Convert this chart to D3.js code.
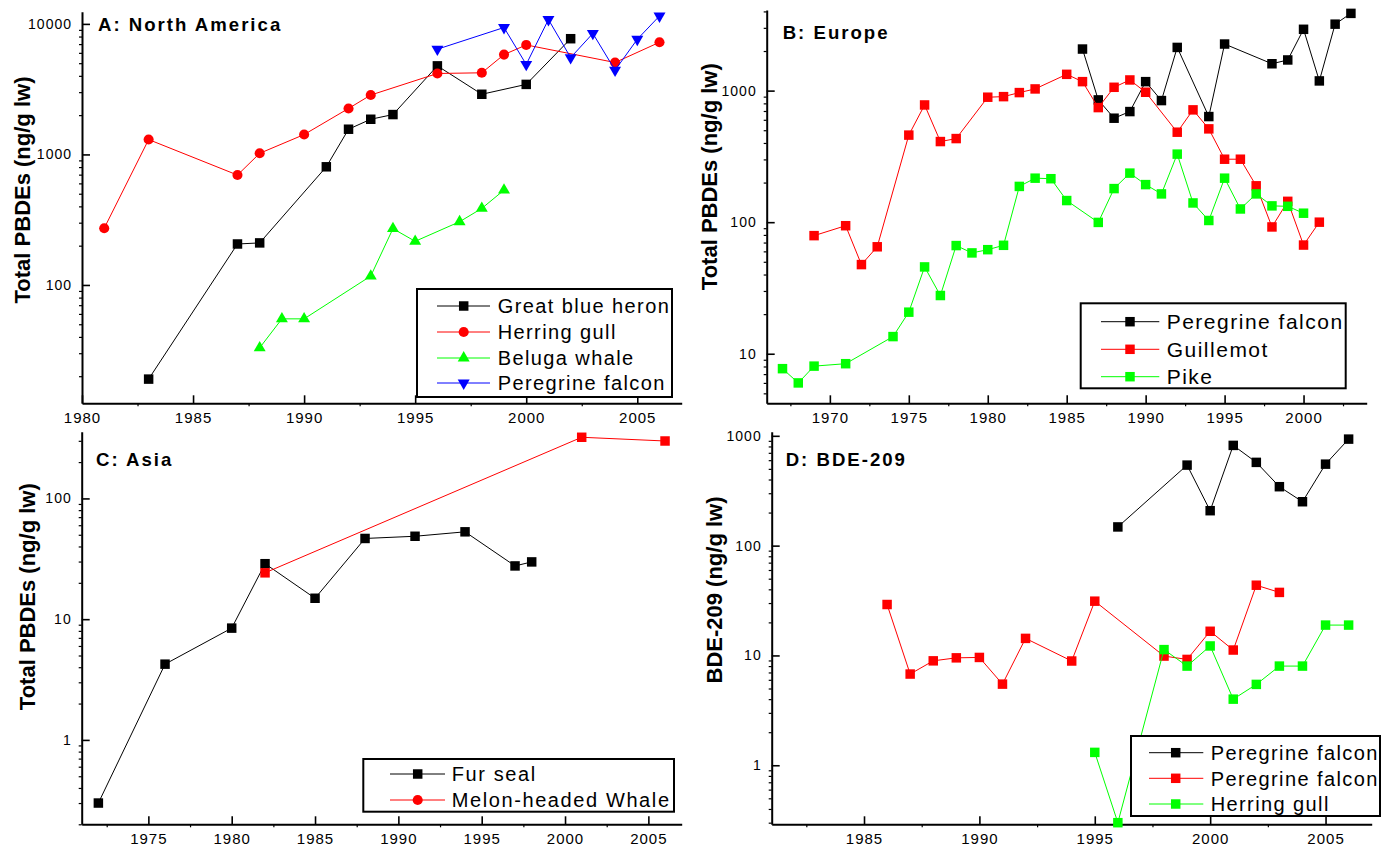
<!DOCTYPE html>
<html><head><meta charset="utf-8">
<script src="https://cdn.jsdelivr.net/npm/d3@7"></script>
<style>
body{margin:0;background:#fff;}
svg{display:block;font-family:"Liberation Sans",Arial,Helvetica,sans-serif;}
</style></head><body>
<svg id="chart" width="1381" height="847"></svg>
<script>
// ---------- Panel A: North America ----------
const yearsHeron = [1983,1987,1988,1991,1992,1993,1994,1996,1998,2000,2002];
const heron      = [19,206,210,804,1560,1860,2020,4770,2890,3440,7700];
const yearsGullA = [1981,1983,1987,1988,1990,1992,1993,1996,1998,1999,2000,2004,2006];
const gullA      = [272,1300,695,1020,1420,2250,2850,4170,4220,5820,6900,5060,7230];
const yearsBeluga = [1988,1989,1990,1993,1994,1995,1997,1998,1999];
const beluga      = [33,55,55,117,270,216,305,386,533];
const yearsFalconA = [1996,1999,2000,2001,2002,2003,2004,2005,2006];
const falconA      = [6400,9380,4890,10800,5520,8450,4420,7620,11500];
const xTicksA = [1980,1985,1990,1995,2000,2005];
const yTicksA = [100,1000,10000];

// ---------- Panel B: Europe ----------
const yearsFalconB = [1986,1987,1988,1989,1990,1991,1992,1994,1995,1998,1999,2000,2001,2002,2003];
const falconB      = [2070,850,617,693,1170,840,2130,635,2260,1600,1710,2925,1185,3200,3865];
const yearsGuillemot = [1969,1971,1972,1973,1975,1976,1977,1978,1980,1981,1982,1983,1985,1986,1987,1988,1989,1990,1992,1993,1994,1995,1996,1997,1998,1999,2000,2001];
const guillemot      = [79,94,47.6,65,459,778,410,432,891,900,966,1030,1330,1170,743,1060,1205,972,483,714,512,301,301,189,92,144,67,100];
const yearsPike = [1967,1968,1969,1971,1974,1975,1976,1977,1978,1979,1980,1981,1982,1983,1984,1985,1987,1988,1989,1990,1991,1992,1993,1994,1995,1996,1997,1998,1999,2000];
const pike      = [7.7,6.0,8.05,8.4,13.5,20.7,45.7,27.7,66.4,58.4,61.8,66.7,187,216,214,146,99.6,180,236,193,164,329,140,103,216,126,164,133,132,117];
const xTicksB = [1970,1975,1980,1985,1990,1995,2000];
const yTicksB = [10,100,1000];

// ---------- Panel C: Asia ----------
const yearsFurSeal = [1972,1976,1980,1982,1985,1988,1991,1994,1997,1998];
const furSeal      = [0.3,4.24,8.43,28.8,14.9,46.6,48.6,52.9,27.6,29.8];
const yearsMelon = [1982,2001,2006];
const melon      = [24.2,321,299];
const xTicksC = [1975,1980,1985,1990,1995,2000,2005];
const yTicksC = [1,10,100];

// ---------- Panel D: BDE-209 ----------
const yearsFalconD1 = [1996,1999,2000,2001,2002,2003,2004,2005,2006];
const falconD1      = [148,541,208,818,573,344,251,552,933];
const yearsFalconD2 = [1986,1987,1988,1989,1990,1991,1992,1994,1995,1998,1999,2000,2001,2002,2003];
const falconD2      = [29.1,6.77,8.93,9.51,9.59,5.48,14.3,8.9,31.2,9.87,9.2,16.6,11.2,43.6,37.5];
const yearsGullD = [1995,1996,1998,1999,2000,2001,2002,2003,2004,2005,2006];
const gullD      = [1.31,0.30,11.3,8.0,12.2,4.0,5.45,8.0,8.0,18.9,18.9];
const xTicksD = [1985,1990,1995,2000,2005];
const yTicksD = [1,10,100,1000];

const zip = (a,b) => a.map((v,i)=>[v,b[i]]);

const panels = [
  { title:"A: North America", ylabel:"Total PBDEs (ng/g lw)",
    left:82, right:681.7, top:11.7, bottom:403.3, xDomain:[1980,2007], yDomain:[12.4,12400],
    xTicks:xTicksA, yTicks:yTicksA, titlePos:[98,30.7], ylabPos:[30,190],
    legend:{box:[417,289,672,397], rows:[306,332,358,383], line:[437,490], mx:463.7, tx:497.7, fs:20, ls:1.4},
    series:[
      {name:"Great blue heron", color:"#000000", sym:"square", data:zip(yearsHeron,heron)},
      {name:"Herring gull", color:"#ff0000", sym:"circle", data:zip(yearsGullA,gullA)},
      {name:"Beluga whale", color:"#00ff00", sym:"up", data:zip(yearsBeluga,beluga)},
      {name:"Peregrine falcon", color:"#0000ff", sym:"down", data:zip(yearsFalconA,falconA)}
    ]},
  { title:"B: Europe", ylabel:"Total PBDEs (ng/g lw)",
    left:766.7, right:1366.7, top:10, bottom:403.3, xDomain:[1966,2004], yDomain:[4.2,4100],
    xTicks:xTicksB, yTicks:yTicksB, titlePos:[782.7,39.3], ylabPos:[716.7,176.7],
    legend:{box:[1080.7,303.3,1345.7,388.3], rows:[321.7,349.3,376.7], line:[1101,1159.3], mx:1130, tx:1166.7, fs:21, ls:1.5},
    series:[
      {name:"Peregrine falcon", color:"#000000", sym:"square", data:zip(yearsFalconB,falconB)},
      {name:"Guillemot", color:"#ff0000", sym:"square", data:zip(yearsGuillemot,guillemot)},
      {name:"Pike", color:"#00ff00", sym:"square", data:zip(yearsPike,pike)}
    ]},
  { title:"C: Asia", ylabel:"Total PBDEs (ng/g lw)",
    left:81.7, right:681.7, top:431.7, bottom:824.3, xDomain:[1971,2007], yDomain:[0.2,357],
    xTicks:xTicksC, yTicks:yTicksC, titlePos:[96,465.7], ylabPos:[35,596.7],
    legend:{box:[363.3,759,674,811.7], rows:[774,800], line:[390,445], mx:417.7, tx:451.7, fs:20, ls:1.6},
    series:[
      {name:"Fur seal", color:"#000000", sym:"square", legendSym:"square", data:zip(yearsFurSeal,furSeal)},
      {name:"Melon-headed Whale", color:"#ff0000", sym:"square", legendSym:"circle", data:zip(yearsMelon,melon)}
    ]},
  { title:"D: BDE-209", ylabel:"BDE-209 (ng/g lw)",
    left:771.7, right:1371.7, top:431.7, bottom:824.3, xDomain:[1981,2007], yDomain:[0.29,1090],
    xTicks:xTicksD, yTicks:yTicksD, titlePos:[785.7,465.7], ylabPos:[722.3,590],
    legend:{box:[1131,736,1380,816], rows:[752.7,778.3,804], line:[1149,1203.3], mx:1175.7, tx:1210.7, fs:20, ls:1.4},
    series:[
      {name:"Peregrine falcon", color:"#000000", sym:"square", data:zip(yearsFalconD1,falconD1)},
      {name:"Peregrine falcon", color:"#ff0000", sym:"square", data:zip(yearsFalconD2,falconD2)},
      {name:"Herring gull", color:"#00ff00", sym:"square", data:zip(yearsGullD,gullD)}
    ]}
];

const svg = d3.select("#chart");

function symbolPath(kind){
  if(kind==="square") return d3.symbol().type(d3.symbolSquare).size(90)();
  if(kind==="circle") return d3.symbol().type(d3.symbolCircle).size(80)();
  return d3.symbol().type(d3.symbolTriangle).size(62)();
}
function drawMarker(g, kind, cx, cy, color){
  g.append("path").attr("d", symbolPath(kind))
    .attr("transform", `translate(${cx},${cy})` + (kind==="down" ? " rotate(180)" : ""))
    .attr("fill", color);
}

panels.forEach(p => {
  const x = d3.scaleLinear().domain(p.xDomain).range([p.left, p.right]);
  const y = d3.scaleLog().domain(p.yDomain).range([p.bottom, p.top]);
  const g = svg.append("g");

  // minor y ticks
  const yMinor = [];
  for (let e=-2; e<=5; e++) for (let m=2; m<=9; m++) {
    const v = +(m*Math.pow(10,e)).toPrecision(6);
    if (v>=p.yDomain[0] && v<=p.yDomain[1]) yMinor.push(v);
  }
  g.append("g").attr("transform",`translate(${p.left},0)`)
    .call(d3.axisLeft(y).tickValues(yMinor).tickSize(3).tickFormat(""))
    .call(s=>{s.select(".domain").remove(); s.selectAll("line").attr("stroke-width",1.2);});
  // minor x ticks
  const xMinor = [];
  for (let v=Math.ceil(p.xDomain[0]/2.5)*2.5; v<=p.xDomain[1]; v+=2.5) if (v%5!==0) xMinor.push(v);
  g.append("g").attr("transform",`translate(0,${p.bottom})`)
    .call(d3.axisBottom(x).tickValues(xMinor).tickSize(3).tickFormat(""))
    .call(s=>{s.select(".domain").remove(); s.selectAll("line").attr("stroke-width",1.2);});

  // major axes
  g.append("g").attr("transform",`translate(${p.left},0)`)
    .call(d3.axisLeft(y).tickValues(p.yTicks).tickSizeInner(-8).tickSizeOuter(0).tickPadding(10).tickFormat(d3.format("d")))
    .call(s=>{
      s.select(".domain").attr("stroke-width",2);
      s.selectAll(".tick line").attr("stroke-width",1.6);
      s.selectAll("text").attr("font-size",14).attr("letter-spacing","1px").attr("fill","#000")
        .attr("font-family","'Liberation Sans',Arial,sans-serif");
    });
  g.append("g").attr("transform",`translate(0,${p.bottom})`)
    .call(d3.axisBottom(x).tickValues(p.xTicks).tickSizeInner(-8).tickSizeOuter(0).tickPadding(9.4).tickFormat(d3.format("d")))
    .call(s=>{
      s.select(".domain").attr("stroke-width",2);
      s.selectAll(".tick line").attr("stroke-width",1.6);
      s.selectAll("text").attr("font-size",15).attr("letter-spacing","1px").attr("fill","#000")
        .attr("font-family","'Liberation Sans',Arial,sans-serif");
    });

  // series
  const line = d3.line().x(d=>x(d[0])).y(d=>y(d[1]));
  p.series.forEach(s => {
    g.append("path").datum(s.data).attr("d", line)
      .attr("fill","none").attr("stroke", s.color).attr("stroke-width",1);
    s.data.forEach(d => drawMarker(g, s.sym, x(d[0]), y(d[1]), s.color));
  });

  // title
  g.append("text").attr("x", p.titlePos[0]).attr("y", p.titlePos[1])
    .attr("font-size",18.6).attr("font-weight","bold").attr("letter-spacing","2px")
    .text(p.title);
  // y label
  g.append("text").attr("transform", `translate(${p.ylabPos[0]},${p.ylabPos[1]}) rotate(-90)`)
    .attr("text-anchor","middle").attr("font-size",22).attr("font-weight","bold")
    .text(p.ylabel);

  // legend
  const L = p.legend;
  const lg = g.append("g");
  lg.append("rect").attr("x",L.box[0]).attr("y",L.box[1])
    .attr("width",L.box[2]-L.box[0]).attr("height",L.box[3]-L.box[1])
    .attr("fill","#fff").attr("stroke","#000").attr("stroke-width",2);
  p.series.forEach((s,i) => {
    const ry = L.rows[i];
    lg.append("line").attr("x1",L.line[0]).attr("x2",L.line[1]).attr("y1",ry).attr("y2",ry)
      .attr("stroke", s.color).attr("stroke-width",1);
    drawMarker(lg, s.legendSym || s.sym, L.mx, ry, s.color);
    lg.append("text").attr("x",L.tx).attr("y",ry).attr("dy","0.36em")
      .attr("font-size",L.fs).attr("letter-spacing",L.ls+"px").text(s.name);
  });
});
</script>
</body></html>
